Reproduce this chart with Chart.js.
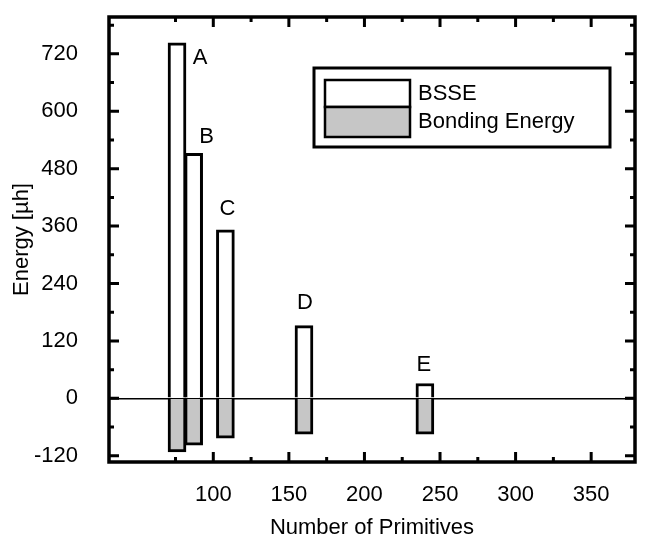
<!DOCTYPE html>
<html>
<head>
<meta charset="utf-8">
<script src="https://cdn.jsdelivr.net/npm/chart.js@4/dist/chart.umd.min.js"></script>
<style>
  html, body { margin: 0; padding: 0; background: #fff; }
  #wrap { width: 654px; height: 543px; }
</style>
</head>
<body>
<div id="wrap"><canvas id="chart" width="654" height="543"></canvas></div>
<script>
// Data
const basisSets = ['A', 'B', 'C', 'D', 'E'];
const primitives = [76, 87, 108, 160, 240];
const bsse = [743, 512, 352, 152, 31];
const bondingEnergy = [-112, -98, -83, -75, -75];
const xTicks = [100, 150, 200, 250, 300, 350];
const yTicks = [-120, 0, 120, 240, 360, 480, 600, 720];

const FONT = 'Liberation Sans, Arial, Helvetica, sans-serif';
const GREY = '#c6c6c6';

// frame, inward ticks, bar letters and legend box
const framePlugin = {
  id: 'frame',
  afterDraw(chart) {
    const ctx = chart.ctx;
    const a = chart.chartArea;
    const xs = chart.scales.x, ys = chart.scales.y;
    ctx.save();
    ctx.strokeStyle = '#000';

    // ticks
    ctx.lineWidth = 3;
    const xMinor = xTicks.map(v => v - 25).filter(v => v > xs.min);
    const yMinor = yTicks.map(v => v + 60).filter(v => v < ys.max);
    const tickX = (v, len) => {
      const px = xs.getPixelForValue(v);
      ctx.beginPath();
      ctx.moveTo(px, a.bottom); ctx.lineTo(px, a.bottom - len);
      ctx.moveTo(px, a.top); ctx.lineTo(px, a.top + len);
      ctx.stroke();
    };
    const tickY = (v, len) => {
      const py = ys.getPixelForValue(v);
      ctx.beginPath();
      ctx.moveTo(a.left, py); ctx.lineTo(a.left + len, py);
      ctx.moveTo(a.right, py); ctx.lineTo(a.right - len, py);
      ctx.stroke();
    };
    xTicks.forEach(v => tickX(v, 10));
    xMinor.forEach(v => tickX(v, 5));
    yTicks.forEach(v => tickY(v, 10));
    yMinor.forEach(v => tickY(v, 5));

    // frame
    ctx.lineWidth = 3.5;
    ctx.strokeRect(a.left, a.top, a.right - a.left, a.bottom - a.top);

    // letters over the bars
    const offs = [[23, 15], [13, -16], [2, -21], [1, -23], [-1, -19]];
    ctx.fillStyle = '#000';
    ctx.font = '22px ' + FONT;
    ctx.textAlign = 'center';
    ctx.textBaseline = 'middle';
    basisSets.forEach((s, i) => {
      const px = xs.getPixelForValue(primitives[i]);
      const py = ys.getPixelForValue(bsse[i]);
      ctx.fillText(s, px + offs[i][0], py + offs[i][1]);
    });

    // legend
    const lx = 314, ly = 68, lw = 296, lh = 79;
    ctx.fillStyle = '#fff';
    ctx.fillRect(lx, ly, lw, lh);
    ctx.lineWidth = 3;
    ctx.strokeRect(lx, ly, lw, lh);
    const ds = chart.data.datasets;
    const rows = [[80, 27], [107, 30]];
    ds.forEach((d, i) => {
      ctx.fillStyle = d.backgroundColor;
      ctx.fillRect(325, rows[i][0], 85, rows[i][1]);
      ctx.lineWidth = 2.5;
      ctx.strokeRect(325, rows[i][0], 85, rows[i][1]);
      ctx.fillStyle = '#000';
      ctx.textAlign = 'left';
      ctx.fillText(d.label, 418, rows[i][0] + rows[i][1] / 2);
    });
    ctx.restore();
  }
};

new Chart(document.getElementById('chart'), {
  type: 'bar',
  data: {
    datasets: [{
      label: 'BSSE',
      data: primitives.map((x, i) => ({ x, y: bsse[i] })),
      backgroundColor: '#ffffff',
      borderColor: '#000',
      borderWidth: 3,
      barThickness: 18,
      grouped: false
    }, {
      label: 'Bonding Energy',
      data: primitives.map((x, i) => ({ x, y: bondingEnergy[i] })),
      backgroundColor: GREY,
      borderColor: '#000',
      borderWidth: 3,
      barThickness: 18,
      grouped: false
    }]
  },
  options: {
    responsive: false,
    animation: false,
    layout: { padding: { top: 17, right: 19, left: 0, bottom: 0 } },
    plugins: { legend: { display: false }, tooltip: { enabled: false } },
    scales: {
      x: {
        type: 'linear',
        min: 60,
        max: 350,
        afterBuildTicks: s => { s.ticks = xTicks.map(v => ({ value: v })); },
        afterFit: s => { s.height = 81; s.paddingLeft = 0; s.paddingRight = 0; },
        grid: { display: false, drawTicks: false },
        border: { display: false },
        ticks: { color: '#000', font: { family: FONT, size: 22 }, padding: 20, maxRotation: 0 },
        title: {
          display: true,
          text: 'Number of Primitives',
          color: '#000',
          font: { family: FONT, size: 22 },
          padding: { top: 0, bottom: 2 }
        }
      },
      y: {
        min: -133,
        max: 797,
        afterBuildTicks: s => { s.ticks = yTicks.map(v => ({ value: v })); },
        afterFit: s => { s.width = 109; s.paddingTop = 0; s.paddingBottom = 0; },
        grid: {
          drawTicks: false,
          color: c => c.tick && c.tick.value === 0 ? '#000' : 'rgba(0,0,0,0)',
          lineWidth: 1.5
        },
        border: { display: false },
        ticks: { color: '#000', font: { family: FONT, size: 22 }, padding: 31 },
        title: {
          display: true,
          text: 'Energy [µh]',
          color: '#000',
          font: { family: FONT, size: 22 },
          padding: { top: 9, bottom: 0 }
        }
      }
    }
  },
  plugins: [framePlugin]
});
</script>
</body>
</html>
